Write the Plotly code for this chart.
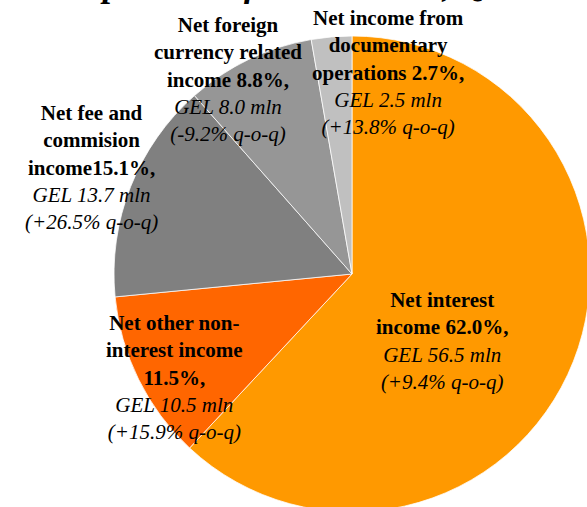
import plotly.graph_objects as go

W, H = 595, 515  # figure slightly larger than the 587x507 view, as the pie is cut at right/bottom

# ---- data ----
categories = [
    "Net interest income",
    "Net other non-interest income",
    "Net fee and commision income",
    "Net foreign currency related income",
    "Net income from documentary operations",
]
shares_pct = [62.0, 11.5, 15.1, 8.8, 2.7]
gel_mln = [56.5, 10.5, 13.7, 8.0, 2.5]
qoq_pct = ["+9.4%", "+15.9%", "+26.5%", "-9.2%", "+13.8%"]
colors = ["#FF9900", "#FF6600", "#808080", "#969696", "#C0C0C0"]

# label headings (line breaks as in the original)
headings = [
    "Net interest<br>income 62.0%,",
    "Net other non-<br>interest income<br>11.5%,",
    "Net fee and<br>commision<br>income15.1%,",
    "Net foreign<br>currency related<br>income 8.8%,",
    "Net income from<br>documentary<br>operations 2.7%,",
]
# label centre positions in figure pixels (x, y)
label_pos = [(442, 341), (174, 377), (91, 167), (228, 79), (388, 72)]

title_text = "Composition of total income, Q2 2019"

FONT = "Liberation Serif"

fig = go.Figure()
fig.add_trace(go.Pie(
    labels=categories,
    values=gel_mln,
    sort=False,
    direction="clockwise",
    rotation=0,
    marker=dict(colors=colors, line=dict(color="#FFFFFF", width=0.75)),
    textinfo="none",
    hoverinfo="label+percent",
    showlegend=False,
    domain=dict(x=[114 / W, 590 / W], y=[3 / H, 479 / H]),
))

def px(x, y):
    return x / W, 1 - y / H

for head, g, q, (lx, ly) in zip(headings, gel_mln, qoq_pct, label_pos):
    ax, ay = px(lx, ly)
    txt = f"<b>{head}</b><br><i>GEL {g:.1f} mln</i><br><i>({q} q-o-q)</i>"
    fig.add_annotation(
        x=ax, y=ay, xref="paper", yref="paper",
        text=txt, showarrow=False,
        xanchor="center", yanchor="middle", align="center",
        font=dict(family=FONT, size=21, color="#000000"),
    )

fig.add_annotation(
    x=32.5 / W, y=1.0, xref="paper", yref="paper",
    text=f"<b><i>{title_text}</i></b>", showarrow=False,
    xanchor="left", yanchor="bottom", yshift=-6,
    font=dict(family=FONT, size=35, color="#000000"),
)

fig.update_layout(
    width=W, height=H,
    margin=dict(l=0, r=0, t=0, b=0),
    paper_bgcolor="#FFFFFF",
    plot_bgcolor="#FFFFFF",
)

fig.write_html(
    "out.html",
    config={"displayModeBar": False},
    post_script="document.body.style.margin='0';document.body.style.overflow='hidden';",
)
